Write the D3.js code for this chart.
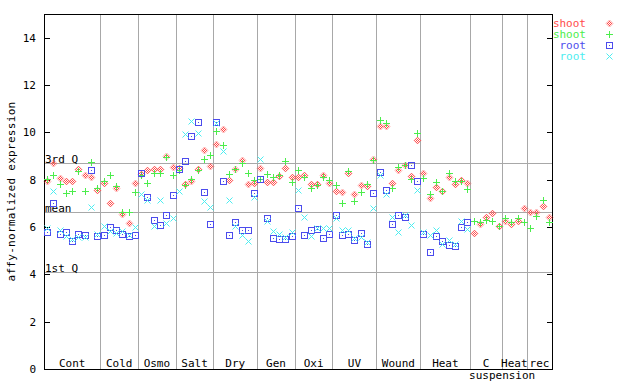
<!DOCTYPE html>
<html>
<head>
<meta charset="utf-8">
<script src="https://cdn.jsdelivr.net/npm/d3@7"></script>
<style>
  body { margin: 0; background: #fff; }
  text { font-family: "DejaVu Sans Mono", monospace; font-size: 11px; }
</style>
</head>
<body>
<svg id="chart" width="640" height="384"></svg>
<script>
// experiment groups and how many samples each one holds
var groupNames = ["Cont", "Cold", "Osmo", "Salt", "Dry", "Gen", "Oxi", "UV", "Wound", "Heat", "C", "Heat", "rec"];
var groupSizes = [9, 6, 6, 6, 7, 6, 6, 7, 7, 8, 5, 4, 4];

// shoot replicate 1 (red diamonds)
var shootRep1 = [
  7.94, 8.72, 8.06, 7.94, 7.94, 8.45, 8.2, 8.11, 7.56,
  7.87, 7.03, 7.63, 6.54, 6.16, 7.86,
  8.25, 8.41, 8.44, 8.45, 9.0, 8.52,
  8.48, 7.8, 7.93, 8.44, 9.24, 8.56,
  9.49, 10.13, 7.97, 8.44, 8.82, 7.8, 7.85,
  8.48, 7.89, 7.89, 8.14, 8.48, 8.1,
  8.1, 8.18, 7.8, 7.8, 8.18, 7.85,
  7.51, 7.46, 8.27, 7.38, 7.76, 7.72, 8.86,
  10.25, 10.25, 7.85, 8.39, 8.62, 8.14, 9.66,
  8.27, 7.21, 7.68, 7.51, 8.1, 7.8, 7.97, 7.85,
  5.73, 6.11, 6.41, 6.58, 6.03,
  6.24, 6.11, 6.24, 6.79,
  6.62, 6.62, 6.87, 6.41
];
// shoot replicate 2 (green plus)
var shootRep2 = [
  8.03, 8.2, 7.82, 7.42, 7.52, 8.37, 7.52, 8.73, 7.65,
  7.94, 8.2, 7.73, 6.63, 6.63, 7.46,
  8.2, 7.86, 8.27, 8.3, 8.94, 8.18,
  8.42, 7.76, 8.01, 8.39, 8.86, 9.03,
  10.04, 9.45, 8.23, 8.44, 8.69, 8.27, 7.97,
  8.04, 8.24, 8.13, 8.21, 8.77, 7.91,
  8.39, 8.1, 7.63, 7.76, 8.1, 7.97,
  7.76, 7.0, 8.35, 7.08, 7.46, 7.8, 8.82,
  10.51, 10.38, 7.63, 8.55, 8.62, 8.02, 9.96,
  8.06, 7.38, 7.89, 7.54, 8.27, 7.93, 7.93, 7.59,
  6.24, 6.2, 6.28, 6.24, 6.03,
  6.37, 6.2, 6.37, 6.2,
  5.94, 6.45, 7.13, 6.2
];
// root replicate 1 (blue squares), no root samples for the last three groups
var rootRep1 = [
  5.77, 7.01, 5.69, 5.8, 5.41, 5.72, 5.65, 8.42, 5.63,
  5.65, 5.99, 5.86, 5.69, 5.61, 5.65,
  8.3, 7.25, 6.28, 6.07, 6.49, 7.34,
  8.44, 8.77, 9.83, 10.42, 7.46, 6.11,
  10.42, 7.93, 5.65, 6.2, 5.86, 5.86, 7.42,
  8.04, 6.37, 5.52, 5.48, 5.48, 5.61,
  6.79, 5.65, 5.86, 5.9, 5.52, 5.69,
  6.49, 5.65, 5.69, 5.44, 5.73, 5.27, 7.42,
  8.31, 7.55, 6.11, 6.49, 6.41, 8.62, 7.94,
  5.69, 4.93, 5.61, 5.39, 5.23, 5.18, 5.99, 6.2,
  null, null, null, null, null,
  null, null, null, null,
  null, null, null, null
];
// root replicate 2 (cyan crosses)
var rootRep2 = [
  5.97, 7.52, 5.86, 5.6, 5.5, 5.58, 5.58, 6.83, 5.7,
  6.03, 5.82, 5.73, 5.82, 5.65, 5.99,
  7.38, 7.13, 6.03, 7.13, 6.15, 6.37,
  7.51, 9.92, 10.46, 9.96, 7.08, 6.83,
  10.38, 9.2, 7.13, 6.03, 5.65, 5.39, 7.25,
  8.87, 6.24, 5.82, 5.69, 5.56, 5.77,
  7.55, 6.41, 5.61, 5.94, 5.94, 5.94,
  6.37, 5.86, 5.86, 5.52, 5.56, 5.35, 6.79,
  8.18, 7.38, 6.41, 5.77, 6.49, 6.07, 7.55,
  5.77, 5.65, 5.86, 5.27, 5.44, 5.27, 6.24, 5.9,
  null, null, null, null, null,
  null, null, null, null,
  null, null, null, null
];

var seriesNames = ["shoot", "shoot", "root", "root"];
var seriesColors = ["#ff4c4c", "#4ced4c", "#4c4ced", "#4cedf0"];
var seriesShapes = ["diamond", "plus", "square", "cross"];

var yTicks = [0, 2, 4, 6, 8, 10, 12, 14];
var refLabels = ["3rd Q", "mean", "1st Q"];
var refValues = [8.69, 6.62, 4.08];

var svg = d3.select("#chart"),
  plotLeft = 44,
  plotRight = 552,
  plotTop = 14,
  plotBottom = 369;

var sampleCount = d3.sum(groupSizes);

var x = d3
  .scaleBand()
  .domain(d3.range(sampleCount))
  .range([plotLeft, plotRight]);

var y = d3
  .scaleLinear()
  .domain([0, 15])
  .range([plotBottom, plotTop]);

function px(v) {
  return Math.round(v) + 0.5;
}

function cx(i) {
  return Math.round(x(i) + x.bandwidth() / 2);
}

// checker fill for the diamond marker
var defs = svg.append("defs");
var pat = defs
  .append("pattern")
  .attr("id", "chk")
  .attr("width", 2)
  .attr("height", 2)
  .attr("patternUnits", "userSpaceOnUse");
pat.append("rect").attr("x", 0).attr("y", 0).attr("width", 1).attr("height", 1).attr("fill", seriesColors[0]);
pat.append("rect").attr("x", 1).attr("y", 1).attr("width", 1).attr("height", 1).attr("fill", seriesColors[0]);

// group boundaries
var ends = Array.from(d3.cumsum(groupSizes));
var starts = [0].concat(ends.slice(0, -1));

function groupCenter(i) {
  return (x(starts[i]) + x(ends[i] - 1) + x.bandwidth()) / 2;
}

var grid = svg.append("g").attr("class", "grid");

grid
  .selectAll("line.div")
  .data(ends.slice(0, -1))
  .enter()
  .append("line")
  .attr("class", "div")
  .attr("x1", function(d) { return px(x(d)); })
  .attr("x2", function(d) { return px(x(d)); })
  .attr("y1", plotTop)
  .attr("y2", plotBottom)
  .attr("stroke", "#a8a8a8")
  .attr("stroke-width", 1);

grid
  .selectAll("line.ref")
  .data(refValues)
  .enter()
  .append("line")
  .attr("class", "ref")
  .attr("x1", plotLeft)
  .attr("x2", plotRight)
  .attr("y1", function(d) { return px(y(d)); })
  .attr("y2", function(d) { return px(y(d)); })
  .attr("stroke", "#a8a8a8")
  .attr("stroke-width", 1);

grid
  .selectAll("text.ref")
  .data(refValues)
  .enter()
  .append("text")
  .attr("class", "ref")
  .attr("x", plotLeft + 1)
  .attr("y", function(d) { return Math.round(y(d)) - 0.5; })
  .text(function(d, i) { return refLabels[i]; });

// frame
svg
  .append("rect")
  .attr("x", plotLeft + 0.5)
  .attr("y", plotTop + 0.5)
  .attr("width", plotRight - plotLeft)
  .attr("height", plotBottom - plotTop)
  .attr("fill", "none")
  .attr("stroke", "#000");

// y ticks, both sides pointing inwards
var ticks = svg.append("g");
ticks
  .selectAll("line.l")
  .data(yTicks)
  .enter()
  .append("line")
  .attr("class", "l")
  .attr("x1", plotLeft)
  .attr("x2", plotLeft + 6)
  .attr("y1", function(d) { return px(y(d)); })
  .attr("y2", function(d) { return px(y(d)); })
  .attr("stroke", "#000");
ticks
  .selectAll("line.r")
  .data(yTicks)
  .enter()
  .append("line")
  .attr("class", "r")
  .attr("x1", plotRight - 5)
  .attr("x2", plotRight + 1)
  .attr("y1", function(d) { return px(y(d)); })
  .attr("y2", function(d) { return px(y(d)); })
  .attr("stroke", "#000");
ticks
  .selectAll("text")
  .data(yTicks)
  .enter()
  .append("text")
  .attr("x", 36)
  .attr("y", function(d) { return y(d) + 4; })
  .attr("text-anchor", "end")
  .text(function(d) { return d; });

svg
  .append("text")
  .attr("transform", "translate(15," + (plotTop + plotBottom) / 2 + ") rotate(-90)")
  .attr("text-anchor", "middle")
  .attr("letter-spacing", "0.3")
  .text("affy-normalized expression");

// group labels
svg
  .append("g")
  .selectAll("text")
  .data(groupNames)
  .enter()
  .append("text")
  .attr("x", function(d, i) { return groupCenter(i); })
  .attr("y", 367)
  .attr("text-anchor", "middle")
  .text(function(d) { return d; });

svg
  .append("text")
  .attr("x", groupCenter(10) + 16)
  .attr("y", 379)
  .attr("text-anchor", "middle")
  .text("suspension");

// markers, about 7px wide, drawn on the pixel grid
function drawMarker(g, shape, color, mx, my) {
  if (shape == "diamond") {
    g.append("path")
      .attr("d", "M" + (mx + 0.5) + "," + (my - 3) + "L" + (mx + 4) + "," + (my + 0.5) + "L" + (mx + 0.5) + "," + (my + 4) + "L" + (mx - 3) + "," + (my + 0.5) + "Z")
      .attr("fill", "url(#chk)")
      .attr("stroke", color)
      .attr("stroke-width", 0.6)
      .attr("stroke-opacity", 0.6);
  } else if (shape == "plus") {
    g.append("path")
      .attr("d", "M" + (mx - 3) + "," + (my + 0.5) + "H" + (mx + 4) + "M" + (mx + 0.5) + "," + (my - 3) + "V" + (my + 4))
      .attr("stroke", color)
      .attr("stroke-width", 1.1)
      .attr("shape-rendering", "crispEdges");
  } else if (shape == "square") {
    g.append("rect")
      .attr("x", mx - 2.5)
      .attr("y", my - 2.5)
      .attr("width", 6)
      .attr("height", 6)
      .attr("fill", "none")
      .attr("stroke", color)
      .attr("stroke-width", 1.1)
      .attr("shape-rendering", "crispEdges");
    g.append("rect")
      .attr("x", mx)
      .attr("y", my)
      .attr("width", 1)
      .attr("height", 1)
      .attr("fill", color);
  } else {
    g.append("path")
      .attr("d", "M" + (mx - 2.5) + "," + (my - 2.5) + "L" + (mx + 3.5) + "," + (my + 3.5) + "M" + (mx + 3.5) + "," + (my - 2.5) + "L" + (mx - 2.5) + "," + (my + 3.5))
      .attr("stroke", color)
      .attr("stroke-width", 1);
  }
}

var allSeries = [shootRep1, shootRep2, rootRep1, rootRep2];
var marks = svg.append("g").attr("class", "marks");

allSeries.forEach(function(values, s) {
  var g = marks.append("g");
  values.forEach(function(v, i) {
    if (v == null) return;
    drawMarker(g, seriesShapes[s], seriesColors[s], cx(i), Math.round(y(v)));
  });
});

// legend
var legend = svg.append("g");
seriesNames.forEach(function(name, s) {
  var ly = 23 + s * 11;
  legend
    .append("text")
    .attr("x", 586)
    .attr("y", ly + 4)
    .attr("text-anchor", "end")
    .attr("fill", seriesColors[s])
    .text(name);
  drawMarker(legend, seriesShapes[s], seriesColors[s], 609, ly);
});
</script>
</body>
</html>
